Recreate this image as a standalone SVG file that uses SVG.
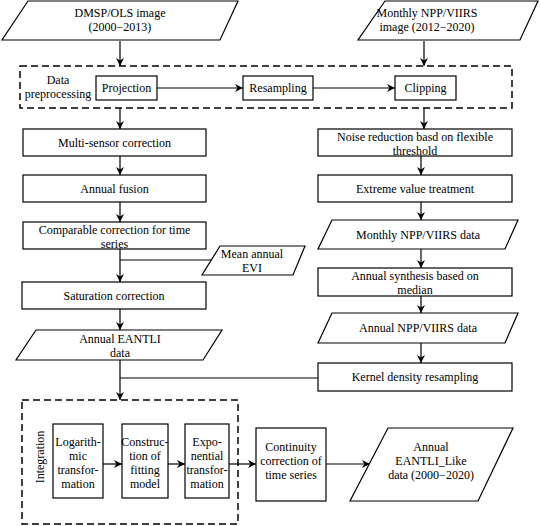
<svg xmlns="http://www.w3.org/2000/svg" width="540" height="526" viewBox="0 0 540 526" font-family="'Liberation Serif', 'Times New Roman', 'DejaVu Serif', serif">
<defs>
<marker id="ah" viewBox="0 0 10 10" refX="10" refY="5" markerWidth="8" markerHeight="8" markerUnits="userSpaceOnUse" orient="auto">
<path d="M0,0 L10,5 L0,10 L3,5 Z" fill="#000"/>
</marker>
</defs>
<style>
text{font-family:'Liberation Serif','Times New Roman','DejaVu Serif',serif;font-size:12px;fill:#000;text-anchor:middle}
.b{fill:#fff;stroke:#000;stroke-width:1.2}
.d{fill:none;stroke:#000;stroke-width:1.5;stroke-dasharray:7,4}
.c{fill:none;stroke:#000;stroke-width:1.2}
.a{marker-end:url(#ah)}
</style>
<rect width="540" height="526" fill="#fff"/>
<g id="connectors">
<path class="c a" d="M120,41 V66"/>
<path class="c a" d="M424,41 V66"/>
<path class="c a" d="M157,88 H243"/>
<path class="c a" d="M313,88 H395"/>
<path class="c a" d="M120,108 V129"/>
<path class="c a" d="M424,108 V129"/>
<path class="c a" d="M120,156 V175"/>
<path class="c a" d="M120,202 V222"/>
<path class="c a" d="M120,249 V282"/>
<path class="c" d="M120,260 H213"/>
<path class="c a" d="M120,309 V330"/>
<path class="c a" d="M120,360 V400"/>
<path class="c" d="M120,378 H318"/>
<path class="c a" d="M421,156 V175"/>
<path class="c a" d="M421,202 V220"/>
<path class="c a" d="M421,249 V268"/>
<path class="c a" d="M421,296 V313"/>
<path class="c a" d="M421,343 V363"/>
<path class="c a" d="M103,464 H122"/>
<path class="c a" d="M168,464 H185"/>
<path class="c a" d="M229,464 H256"/>
<path class="c a" d="M326,464 H370"/>
</g>
<g id="dmsp">
<path class="b" d="M28,1 H238 L220,40 H2 Z"/>
<text x="120" y="17">DMSP/OLS image</text>
<text x="120" y="31">(2000−2013)</text>
</g>
<g id="npp">
<path class="b" d="M385,1 H538 L520,40 H358 Z"/>
<text x="427" y="17">Monthly NPP/VIIRS</text>
<text x="427" y="31">image (2012−2020)</text>
</g>
<g id="preprocessing">
<rect class="d" x="20" y="66" width="492" height="42"/>
<text x="58" y="84">Data</text>
<text x="58" y="98">preprocessing</text>
</g>
<g id="projection">
<rect class="b" x="96" y="76" width="61" height="24"/>
<text x="126.5" y="92">Projection</text>
</g>
<g id="resampling">
<rect class="b" x="243" y="76" width="70" height="24"/>
<text x="278" y="92">Resampling</text>
</g>
<g id="clipping">
<rect class="b" x="395" y="76" width="61" height="24"/>
<text x="425.5" y="92">Clipping</text>
</g>
<g id="multisensor">
<rect class="b" x="23" y="129" width="183" height="27"/>
<text x="114.5" y="146.5">Multi-sensor correction</text>
</g>
<g id="fusion">
<rect class="b" x="23" y="175" width="183" height="27"/>
<text x="114.5" y="192.5">Annual fusion</text>
</g>
<g id="comparable">
<rect class="b" x="23" y="222" width="183" height="27"/>
<text x="114.5" y="233.5">Comparable correction for time</text>
<text x="114.5" y="247.5">series</text>
</g>
<g id="evi">
<path class="b" d="M220,246 H305 L293,275 H202 Z"/>
<text x="252" y="258">Mean annual</text>
<text x="252" y="272">EVI</text>
</g>
<g id="saturation">
<rect class="b" x="22" y="282" width="184" height="27"/>
<text x="114" y="299.5">Saturation correction</text>
</g>
<g id="eantli">
<path class="b" d="M36,330 H222 L203,360 H16 Z"/>
<text x="120" y="343">Annual EANTLI</text>
<text x="120" y="357">data</text>
</g>
<g id="noise">
<rect class="b" x="318" y="129" width="194" height="27"/>
<text x="415" y="141">Noise reduction basd on flexible</text>
<text x="415" y="155">threshold</text>
</g>
<g id="extreme">
<rect class="b" x="318" y="175" width="194" height="27"/>
<text x="415" y="192.5">Extreme value treatment</text>
</g>
<g id="monthlydata">
<path class="b" d="M332,220 H518 L505,249 H318 Z"/>
<text x="418" y="239">Monthly NPP/VIIRS data</text>
</g>
<g id="synthesis">
<rect class="b" x="318" y="268" width="194" height="28"/>
<text x="415" y="280">Annual synthesis based on</text>
<text x="415" y="294">median</text>
</g>
<g id="annualnpp">
<path class="b" d="M332,313 H518 L505,343 H318 Z"/>
<text x="418" y="332">Annual NPP/VIIRS data</text>
</g>
<g id="kernel">
<rect class="b" x="318" y="363" width="194" height="28"/>
<text x="415" y="381">Kernel density resampling</text>
</g>
<g id="integration">
<rect class="d" x="22" y="400" width="216" height="124"/>
<text x="0" y="0" transform="translate(44,457) rotate(-90)">Integration</text>
</g>
<g id="log">
<rect class="b" x="53" y="424" width="50" height="74"/>
<text x="78" y="446">Logarith-</text>
<text x="78" y="460">mic</text>
<text x="78" y="474">transfor-</text>
<text x="78" y="488">mation</text>
</g>
<g id="construction">
<rect class="b" x="122" y="424" width="46" height="74"/>
<text x="145" y="446">Construc-</text>
<text x="145" y="460">tion of</text>
<text x="145" y="474">fitting</text>
<text x="145" y="488">model</text>
</g>
<g id="exponential">
<rect class="b" x="185" y="424" width="44" height="74"/>
<text x="207" y="446">Expo-</text>
<text x="207" y="460">nential</text>
<text x="207" y="474">transfor-</text>
<text x="207" y="488">mation</text>
</g>
<g id="continuity">
<rect class="b" x="256" y="428" width="70" height="73"/>
<text x="291" y="451">Continuity</text>
<text x="291" y="465">correction of</text>
<text x="291" y="479">time series</text>
</g>
<g id="final">
<path class="b" d="M388,428 H513 L478,501 H350 Z"/>
<text x="431" y="451">Annual</text>
<text x="431" y="465">EANTLI_Like</text>
<text x="431" y="479">data (2000−2020)</text>
</g>
</svg>
